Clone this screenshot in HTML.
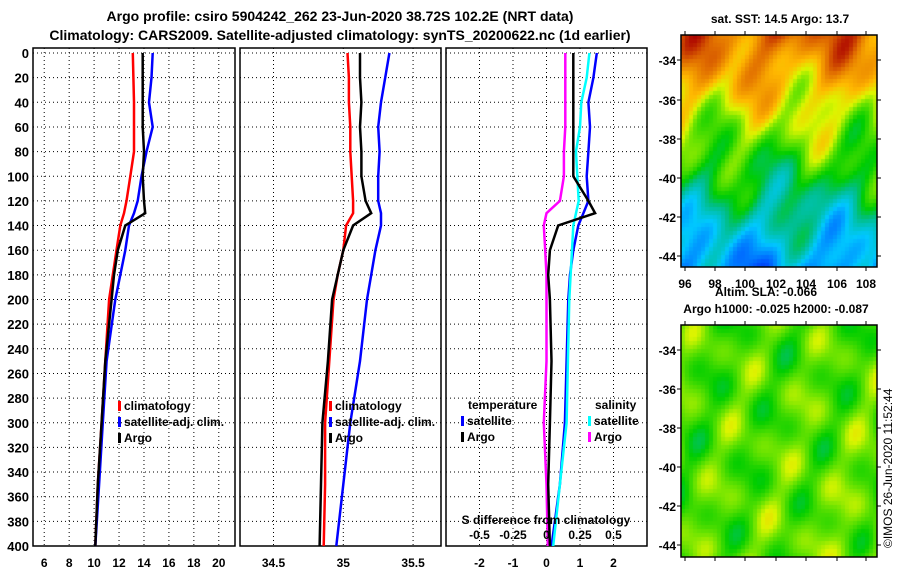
<!DOCTYPE html>
<html><head><meta charset="utf-8">
<style>
body{margin:0;background:#fff;width:900px;height:580px;overflow:hidden;font-family:"Liberation Sans",Arial,sans-serif}
svg text{font-family:"Liberation Sans",Arial,sans-serif;font-weight:bold;fill:#000}
canvas{position:absolute}
</style></head><body>
<svg id="chart" width="900" height="580" style="position:absolute;left:0;top:0">
<text x="340" y="21" font-size="14" text-anchor="middle">Argo profile: csiro 5904242_262 23-Jun-2020 38.72S 102.2E (NRT data)</text>
<text x="340" y="40" font-size="14" text-anchor="middle">Climatology: CARS2009. Satellite-adjusted climatology: synTS_20200622.nc (1d earlier)</text>
<text x="780" y="23" font-size="12" text-anchor="middle">sat. SST: 14.5 Argo: 13.7</text>
<text x="766" y="296" font-size="12" text-anchor="middle">Altim. SLA: -0.066</text>
<text x="776" y="313" font-size="12" text-anchor="middle">Argo h1000: -0.025 h2000: -0.087</text>
<text x="892" y="548" font-size="12" style="font-weight:normal" transform="rotate(-90 892 548)">©IMOS 26-Jun-2020 11:52:44</text>
<g id="plots"></g>
</svg>
<canvas id="map1" width="196" height="232" style="left:681px;top:35px"></canvas>
<canvas id="map2" width="196" height="232" style="left:681px;top:325px"></canvas>
<svg width="900" height="580" style="position:absolute;left:0;top:0" id="over"></svg>
<script>
// ---- data ----
const depths = [0,20,40,60,80,100,120,130,140,160,180,200,250,300,350,400];
const tempClim = [13.1,13.15,13.2,13.2,13.2,12.9,12.6,12.4,12.1,11.8,11.5,11.2,10.9,10.6,10.3,10.1];
const tempSat  = [14.7,14.6,14.4,14.7,14.2,13.8,13.5,13.2,12.8,12.5,12.1,11.7,11.0,10.7,10.4,10.1];
const tempArgo = [13.9,13.9,13.9,13.9,14.0,13.9,14.0,14.1,12.5,11.9,11.6,11.4,10.9,10.6,10.3,10.1];
const salClim = [35.03,35.04,35.04,35.05,35.05,35.06,35.07,35.07,35.02,35.0,34.96,34.93,34.9,34.87,34.87,34.86];
const salSat  = [35.33,35.30,35.27,35.25,35.26,35.25,35.25,35.27,35.27,35.23,35.2,35.17,35.12,35.05,35.0,34.95];
const salArgo = [35.12,35.12,35.13,35.12,35.13,35.13,35.16,35.2,35.07,35.0,34.96,34.92,34.89,34.85,34.84,34.83];
const dTsat  = [1.5,1.4,1.25,1.3,1.25,1.2,1.25,1.1,0.95,0.8,0.7,0.65,0.6,0.55,0.4,0.15];
const dTargo = [0.8,0.8,0.8,0.8,0.8,0.8,1.25,1.45,0.35,0.1,0.05,0.1,0.15,0.1,0.05,0.1];
const dSsat  = [0.32,0.3,0.26,0.25,0.22,0.23,0.24,0.22,0.2,0.19,0.18,0.17,0.16,0.15,0.1,0.05];
const dSargo = [0.14,0.14,0.14,0.14,0.13,0.13,0.1,0.0,-0.02,-0.01,0.0,0.0,0.0,-0.02,0.0,0.01];
const tTicks = [6,8,10,12,14,16,18,20];
const sTicks = [34.5,35,35.5];
const dTicks = [-2,-1,0,1,2];
const dsTicks = [-0.5,-0.25,0,0.25,0.5];
const yTicks = [0,20,40,60,80,100,120,140,160,180,200,220,240,260,280,300,320,340,360,380,400];

const NS='http://www.w3.org/2000/svg';
const G=document.getElementById('plots');
function mk(t,a,p){const e=document.createElementNS(NS,t);for(const k in a)e.setAttribute(k,a[k]);(p||G).appendChild(e);return e;}
const y=d=>53+d*(493/400);
const panels=[
 {x0:33,x1:235,lo:5.1,hi:21.3,ticks:tTicks,name:'temperature-panel'},
 {x0:240,x1:441,lo:34.26,hi:35.70,ticks:sTicks,name:'salinity-panel'},
 {x0:446,x1:647,lo:-3,hi:3,ticks:dTicks,name:'difference-panel'}];
panels.forEach(p=>{p.x=v=>p.x0+(v-p.lo)/(p.hi-p.lo)*(p.x1-p.x0);});
panels.forEach((p,i)=>{
 const g=mk('g',{});
 yTicks.forEach(d=>{const l=mk('line',{x1:p.x0,x2:p.x1,y1:y(d),y2:y(d),stroke:'#000','stroke-dasharray':'1 3'},g);
  });
 p.ticks.forEach(v=>{const xx=p.x(v);
  const l=mk('line',{x1:xx,x2:xx,y1:48,y2:546,stroke:'#000','stroke-dasharray':'1 3'},g);
  
  const t=mk('text',{x:xx,y:567,'font-size':12,'text-anchor':'middle'},g);t.textContent=v;
  });
 const r=mk('rect',{x:p.x0,y:48,width:p.x1-p.x0,height:498,fill:'none',stroke:'#000','stroke-width':1.5},g);
 
});
yTicks.forEach(d=>{const t=mk('text',{x:29,y:y(d)+5,'font-size':13,'text-anchor':'end'});t.textContent=d;
 });
function line(p,vals,col,name){const pts=depths.map((d,i)=>p.x(vals[i]).toFixed(1)+','+y(d).toFixed(1)).join(' ');
 const l=mk('polyline',{points:pts,fill:'none',stroke:col,'stroke-width':2.5});
 }
line(panels[0],tempClim,'#f00','temp-climatology-line');
line(panels[0],tempSat,'#00f','temp-satellite-line');
line(panels[0],tempArgo,'#000','temp-argo-line');
line(panels[1],salClim,'#f00','sal-climatology-line');
line(panels[1],salSat,'#00f','sal-satellite-line');
line(panels[1],salArgo,'#000','sal-argo-line');
line(panels[2],dTsat,'#00f','dT-satellite-line');
line(panels[2],dSsat.map(v=>v*4),'#0ff','dS-satellite-line');
line(panels[2],dSargo.map(v=>v*4),'#f0f','dS-argo-line');
line(panels[2],dTargo,'#000','dT-argo-line');
dsTicks.forEach(v=>{const t=mk('text',{x:panels[2].x(v*4),y:539,'font-size':12,'text-anchor':'middle'});t.textContent=v;
 });
const st=mk('text',{x:546,y:524,'font-size':12,'text-anchor':'middle'});st.textContent='S difference from climatology';

function leg(x,yy,col,txt){const r=mk('rect',{x:x,y:yy-9,width:3,height:10,fill:col});
 
 const t=mk('text',{x:x+6,y:yy,'font-size':12});t.textContent=txt;
 }
leg(118,410,'#f00','climatology');leg(118,426,'#00f','satellite-adj. clim.');leg(118,442,'#000','Argo');
leg(329,410,'#f00','climatology');leg(329,426,'#00f','satellite-adj. clim.');leg(329,442,'#000','Argo');
const t1=mk('text',{x:468,y:409,'font-size':12});t1.textContent='temperature';
const t2=mk('text',{x:595,y:409,'font-size':12});t2.textContent='salinity';
leg(461,425,'#00f','satellite');leg(461,441,'#000','Argo');
leg(588,425,'#0ff','satellite');leg(588,441,'#f0f','Argo');

// maps
const over=document.getElementById('over');
function mapAxes(top,showX){
 const lats=[-34,-36,-38,-40,-42,-44];const ly=top===35?[60,100,139,178,217,256]:[350,389,428,467,506,545];
 mk('rect',{x:681,y:top,width:196,height:232,fill:'none',stroke:'#000','stroke-width':1.5},over);
 lats.forEach((v,i)=>{const t=mk('text',{x:676,y:ly[i]+5,'font-size':12,'text-anchor':'end'},over);t.textContent=v;
  
  mk('line',{x1:877,x2:881,y1:ly[i],y2:ly[i],stroke:'#000'},over);mk('line',{x1:677,x2:681,y1:ly[i],y2:ly[i],stroke:'#000'},over);});
 const lx=[685,715,745,776,806,837,866];
 lx.forEach((x,i)=>{mk('line',{x1:x,x2:x,y1:top+232,y2:top+236,stroke:'#000'},over);mk('line',{x1:x,x2:x,y1:top-4,y2:top,stroke:'#000'},over);
  if(showX){const t=mk('text',{x:x,y:288,'font-size':12,'text-anchor':'middle'},over);t.textContent=96+2*i;
  }});
}
mapAxes(35,true);mapAxes(325,false);
const stops=[[0,[0,0,140]],[0.15,[0,80,255]],[0.3,[0,200,255]],[0.42,[0,190,130]],[0.5,[0,205,0]],[0.6,[120,230,0]],[0.66,[220,245,0]],[0.74,[255,185,0]],[0.86,[225,110,0]],[1,[170,0,0]]];
function cmap(v){v=Math.max(0,Math.min(1,v));for(let k=1;k<stops.length;k++){if(v<=stops[k][0]){const a=stops[k-1],b=stops[k];const t=(v-a[0])/(b[0]-a[0]);
 return `rgb(${a[1].map((c,i)=>Math.round(c+(b[1][i]-c)*t)).join(',')})`;}}return 'rgb(170,0,0)';}
function draw(id,f){const c=document.getElementById(id).getContext('2d');const s=4;
 for(let j=0;j<232;j+=s)for(let i=0;i<196;i+=s){c.fillStyle=cmap(f(i/196,j/232));c.fillRect(i,j,s,s);}}
draw('map1',(u,v)=>0.86-0.62*v+0.06*Math.sin(u*17+v*5)+0.05*Math.cos(u*9-v*13)+0.04*Math.sin(u*31+v*23));
draw('map2',(u,v)=>0.56+0.04*Math.sin(u*19+v*7)+0.04*Math.cos(u*11-v*21)+0.03*Math.sin(u*29+v*17)+0.03*v*u);
</script>
</body></html>
